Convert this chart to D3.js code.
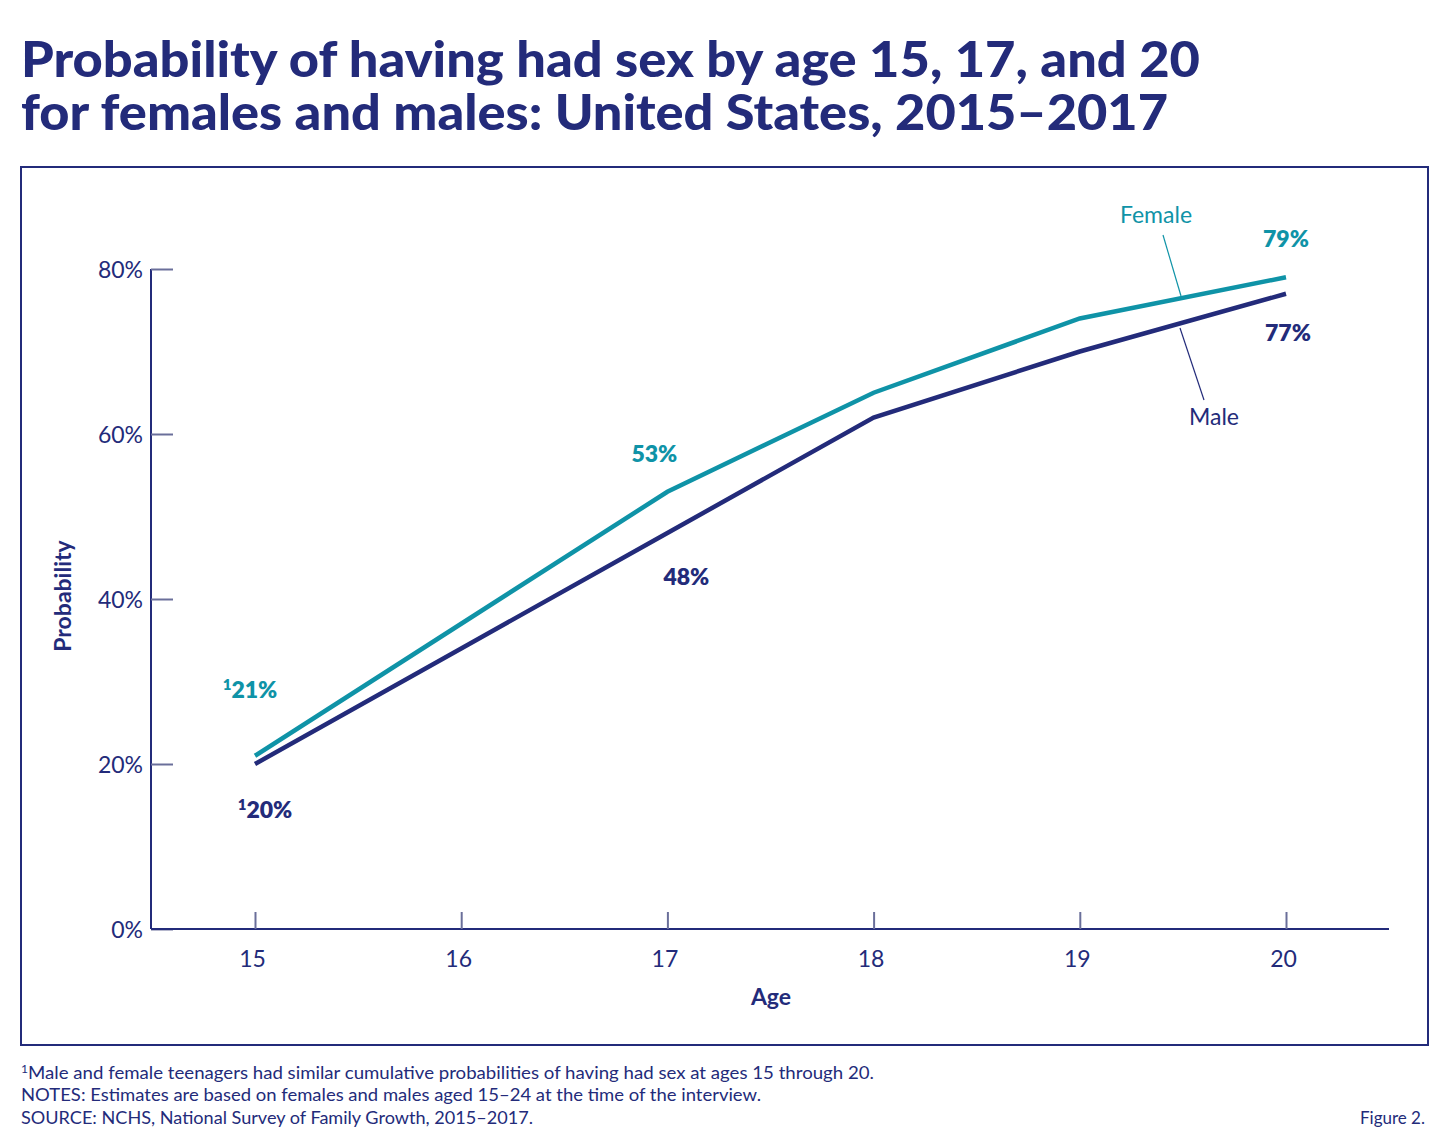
<!DOCTYPE html>
<html>
<head>
<meta charset="utf-8">
<title>Probability of having had sex</title>
<script src="https://cdn.jsdelivr.net/npm/d3@7"></script>
<style>
  body { margin: 0; background: #fff; }
  text { font-family: Lato, "Open Sans", sans-serif; }
</style>
</head>
<body>
<div id="chart"></div>
<script>
// data
const ages = [15, 16, 17, 18, 19, 20];
const female = [21, 37, 53, 65, 74, 79];
const male = [20, 34, 48, 62, 70, 77];
const yTicks = [0, 20, 40, 60, 80];
const labelAges = [15, 17, 20];

const W = 1449, H = 1146;
const navy = "#232b7a", teal = "#0f93a7";

const svg = d3.select("#chart").append("svg")
  .attr("width", W).attr("height", H);

// title
svg.append("text").attr("x", 21).attr("y", 77)
  .attr("fill", navy).attr("font-size", 49).attr("font-weight", 900)
  .attr("textLength", 1179).attr("lengthAdjust", "spacingAndGlyphs")
  .text("Probability of having had sex by age 15, 17, and 20");
svg.append("text").attr("x", 21).attr("y", 130)
  .attr("fill", navy).attr("font-size", 49).attr("font-weight", 900)
  .attr("textLength", 1147).attr("lengthAdjust", "spacingAndGlyphs")
  .text("for females and males: United States, 2015\u20132017");

// frame
svg.append("rect").attr("x", 21).attr("y", 167).attr("width", 1407).attr("height", 878)
  .attr("fill", "none").attr("stroke", navy).attr("stroke-width", 2);

const x = d3.scaleLinear().domain([15, 20]).range([255, 1286]);
const y = d3.scaleLinear().domain([0, 80]).range([929, 269]);

// y axis
const yAxis = svg.append("g").attr("transform", "translate(151,0)")
  .call(d3.axisRight(y).tickValues(yTicks).tickSize(22).tickFormat(d => d + "%"));
yAxis.select(".domain").attr("stroke", navy).attr("stroke-width", 2).attr("d", "M0," + y(80) + "V" + y(0));
yAxis.selectAll(".tick line").attr("stroke", "#6a6f9a").attr("stroke-width", 2);
yAxis.selectAll(".tick text").attr("x", -8).attr("text-anchor", "end").attr("dy", "0.35em")
  .attr("fill", navy).attr("font-size", 23);

// x axis
const xAxis = svg.append("g").attr("transform", "translate(0,929)")
  .call(d3.axisTop(x).tickValues(ages).tickSize(17).tickFormat(d3.format("d")));
xAxis.select(".domain").attr("stroke", navy).attr("stroke-width", 2).attr("d", "M151,0H1389");
xAxis.selectAll(".tick line").attr("stroke", "#6a6f9a").attr("stroke-width", 2);
xAxis.selectAll(".tick text").attr("x", -3).attr("y", 38).attr("dy", 0)
  .attr("fill", navy).attr("font-size", 23).attr("text-anchor", "middle");

// axis titles
svg.append("text").attr("x", 771).attr("y", 1005).attr("text-anchor", "middle")
  .attr("fill", navy).attr("font-size", 23).attr("font-weight", 700).text("Age");
svg.append("text").attr("transform", "translate(71,596) rotate(-90)").attr("text-anchor", "middle")
  .attr("fill", navy).attr("font-size", 23).attr("font-weight", 700).text("Probability");

// lines
const line = d3.line().x((d, i) => x(ages[i])).y(d => y(d));
svg.append("path").datum(male).attr("d", line)
  .attr("fill", "none").attr("stroke", navy).attr("stroke-width", 4.5);
svg.append("path").datum(female).attr("d", line)
  .attr("fill", "none").attr("stroke", teal).attr("stroke-width", 4.5);

// value labels
const fOff = {15: [-5, -58], 17: [-13, -30], 20: [0, -30]};
const mOff = {15: [10, 54], 17: [19, 52], 20: [2, 47]};
function valueLabel(age, v, off, color) {
  const t = svg.append("text").attr("x", x(age) + off[0]).attr("y", y(v) + off[1])
    .attr("text-anchor", "middle").attr("fill", color)
    .attr("font-size", 23).attr("font-weight", 800);
  if (age === 15) {
    t.append("tspan").attr("font-size", 15).attr("dy", -8).text("1");
    t.append("tspan").attr("dy", 8).text(v + "%");
  } else {
    t.text(v + "%");
  }
}
labelAges.forEach(a => {
  const i = ages.indexOf(a);
  valueLabel(a, female[i], fOff[a], teal);
  valueLabel(a, male[i], mOff[a], navy);
});

// series labels with leader lines
svg.append("text").attr("x", 1156).attr("y", 223).attr("text-anchor", "middle")
  .attr("fill", teal).attr("font-size", 23).text("Female");
svg.append("line").attr("x1", 1163).attr("y1", 235).attr("x2", 1181).attr("y2", 296)
  .attr("stroke", teal).attr("stroke-width", 1.2);
svg.append("text").attr("x", 1214).attr("y", 425).attr("text-anchor", "middle")
  .attr("fill", navy).attr("font-size", 23).text("Male");
svg.append("line").attr("x1", 1180).attr("y1", 328).attr("x2", 1204).attr("y2", 400)
  .attr("stroke", navy).attr("stroke-width", 1.2);

// footnotes
const notes = svg.append("g").attr("fill", navy).attr("font-size", 17);
const n1 = notes.append("text").attr("x", 21).attr("y", 1079)
  .attr("textLength", 853).attr("lengthAdjust", "spacingAndGlyphs");
n1.append("tspan").attr("font-size", 11).attr("dy", -6).text("1");
n1.append("tspan").attr("dy", 6).text("Male and female teenagers had similar cumulative probabilities of having had sex at ages 15 through 20.");
notes.append("text").attr("x", 21).attr("y", 1101)
  .attr("textLength", 740).attr("lengthAdjust", "spacingAndGlyphs")
  .text("NOTES: Estimates are based on females and males aged 15\u201324 at the time of the interview.");
notes.append("text").attr("x", 21).attr("y", 1124)
  .attr("textLength", 512).attr("lengthAdjust", "spacingAndGlyphs")
  .text("SOURCE: NCHS, National Survey of Family Growth, 2015\u20132017.");
notes.append("text").attr("x", 1425).attr("y", 1124).attr("text-anchor", "end").text("Figure 2.");
</script>
</body>
</html>
